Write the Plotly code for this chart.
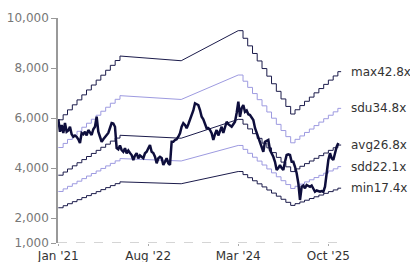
import pandas as pd
import plotly.graph_objects as go

# ---------------- data ----------------
PRICE_START = "2021-01-01"
PRICE_END = "2025-12-04"
PRICE = [
    5950, 5450, 5720, 5400, 5800, 5450, 5500, 5650, 5350, 5250,
    5300, 5250, 5150, 5000, 5400, 5350, 5450, 5300, 5520, 5400,
    5320, 5550, 5650, 6050, 5450, 5250, 5050, 5150, 5250, 5300,
    5400, 5600, 5800, 5780, 5650, 4800, 4750, 4900, 4720, 4650,
    4790, 4590, 4700, 4600, 4520, 4320, 4500, 4590, 4390, 4500,
    4450, 4390, 4590, 4650, 4790, 4920, 4650, 4600, 4450, 4190,
    4390, 4450, 4400, 4120, 4250, 4390, 4190, 4120, 5050, 5050,
    5120, 5150, 5250, 5390, 5650, 5790, 5720, 5590, 5750, 5920,
    6120, 6300, 6590, 6550, 6520, 6320, 6050, 5950, 5790, 5590,
    5600, 5520, 5390, 5120, 5350, 5520, 5300, 5450, 5650, 5400,
    5600, 5850, 5750, 5700, 5650, 5750, 5850, 6200, 6650, 6050,
    6390, 6520, 6250, 6300, 6150, 6120, 6000, 5920, 5600, 5390,
    5200, 5050, 4850, 4650, 5050, 5100, 5120, 4720, 4600, 4450,
    4250, 3920, 4000, 4120, 4000, 3920, 4250, 4520, 4550, 4520,
    4250, 4250, 4050, 3790, 3390, 2720, 3250, 3300, 3190, 3320,
    3280, 3250, 3300, 3190, 3050, 3100, 3080, 3050, 3080, 3050,
    3250, 3920, 4320, 4590, 4390, 4320, 4590, 4850, 5000,
]

EPS_DATES = [
    "2021-01-01", "2021-02-01", "2021-03-01", "2021-04-01", "2021-05-01",
    "2021-06-01", "2021-07-01", "2021-08-01", "2021-09-01", "2021-10-01",
    "2021-11-01", "2021-12-01", "2022-01-01", "2022-02-01",
    "2023-03-01", "2024-03-01",
    "2024-04-01", "2024-05-01", "2024-06-01", "2024-07-01", "2024-08-01",
    "2024-09-01", "2024-10-01", "2024-11-01", "2024-12-01", "2025-01-01",
    "2025-02-01", "2025-03-01", "2025-04-01", "2025-05-01", "2025-06-01",
    "2025-07-01", "2025-08-01", "2025-09-01", "2025-10-01", "2025-11-01",
    "2025-12-01", "2025-12-22",
]
EPS = [
    138.5, 143.2, 147.8, 152.5, 157.1,
    161.8, 166.4, 171.0, 175.6, 180.2,
    184.8, 189.4, 193.9, 198.1,
    193.7, 221.8,
    214.7, 207.6, 200.5, 193.5, 186.4,
    179.3, 172.2, 165.1, 158.0, 151.0,
    143.9, 147.9, 151.8, 155.8, 159.7,
    163.7, 167.7, 171.6, 175.6, 179.5,
    183.5, 183.5,
]

BAND_NAMES = ["max", "sdu", "avg", "sdd", "min"]
BAND_MULTIPLES = [42.8, 34.8, 26.8, 22.1, 17.4]
BAND_COLORS = ["#1b1b4b", "#9d9ae0", "#1b1b4b", "#9d9ae0", "#1b1b4b"]

X_TICKS = ["2021-01-01", "2022-08-01", "2024-03-01", "2025-10-01"]
X_TICK_TEXT = ["Jan '21", "Aug '22", "Mar '24", "Oct '25"]
Y_TICKS = [1000, 2000, 4000, 6000, 8000, 10000]

# ---------------- build ----------------
price_dates = pd.date_range(PRICE_START, PRICE_END, periods=len(PRICE))
eps_dates = pd.to_datetime(EPS_DATES)

# staircase where EPS updates monthly, straight line across longer gaps
step_x, step_eps = [], []
for i, (d, e) in enumerate(zip(eps_dates, EPS)):
    step_x.append(d)
    step_eps.append(e)
    if i < len(EPS) - 1:
        nd = eps_dates[i + 1]
        if (nd - d).days <= 35:
            step_x.append(nd)
            step_eps.append(e)

fig = go.Figure()
for name, mult, col in zip(BAND_NAMES, BAND_MULTIPLES, BAND_COLORS):
    ys = [e * mult for e in step_eps]
    fig.add_trace(go.Scatter(x=step_x, y=ys, mode="lines", name=name,
                             line=dict(color=col, width=1), hoverinfo="skip"))
    fig.add_annotation(x=step_x[-1], y=ys[-1], text=f"{name}{mult}x",
                       showarrow=False, xanchor="left", yanchor="middle",
                       xshift=8, font=dict(family="DejaVu Sans", size=12, color="#333333"))

fig.add_trace(go.Scatter(x=price_dates, y=PRICE, mode="lines", name="price",
                         line=dict(color="#0e0e3c", width=2.5)))

fig.add_shape(type="line", xref="paper", yref="y", x0=0, x1=1, y0=1000, y1=1000,
              line=dict(color="#aaaaaa", width=1, dash="dash"))

fig.update_layout(
    width=410, height=262,
    margin=dict(l=58, r=67, t=18, b=19),
    paper_bgcolor="white", plot_bgcolor="white",
    showlegend=False,
    font=dict(family="DejaVu Sans", size=12, color="#333333"),
)
fig.update_xaxes(
    type="date", range=["2020-12-30", "2026-01-03"],
    tickvals=X_TICKS, ticktext=X_TICK_TEXT,
    showgrid=False, zeroline=False, showline=False,
    ticks="outside", ticklen=2, tickcolor="#aaaaaa",
    tickfont=dict(size=12, color="#333333"), automargin=False,
)
fig.update_yaxes(
    range=[1000, 10000], tickvals=Y_TICKS, tickformat=",",
    showgrid=False, zeroline=False, showline=True, linecolor="#999999", linewidth=1.5,
    ticks="outside", ticklen=5, tickcolor="#999999",
    tickfont=dict(size=12, color="#777777"), automargin=False,
)

# remove the browser's default 8px page margin so the figure fills the window
fig.write_html("out.html", config={"displayModeBar": False},
               post_script="document.body.style.margin='0';")
